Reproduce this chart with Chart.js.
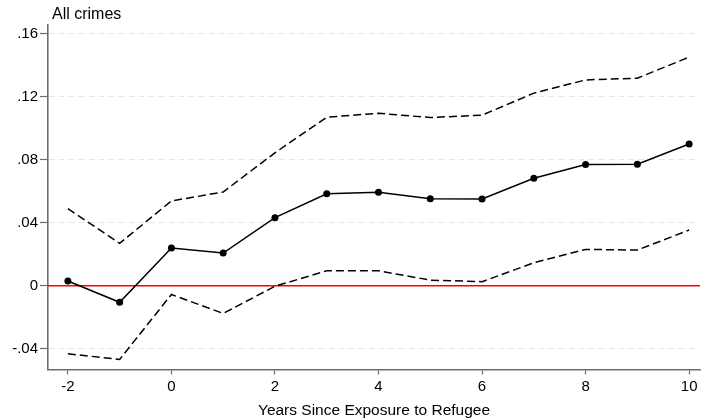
<!DOCTYPE html>
<html lang="en">
<head>
    <meta charset="UTF-8">
    <title>All crimes - event study</title>
    <script src="https://cdn.jsdelivr.net/npm/chart.js"></script>
    <style>
        body { margin: 0; background: #fff; }
        canvas { display: block; }
    </style>
</head>
<body>
    <canvas id="eventChart" width="704" height="419"></canvas>

    <script>
        // Years relative to refugee exposure
        const years = [-2, -1, 0, 1, 2, 3, 4, 5, 6, 7, 8, 9, 10];
        // Point estimates and 95% confidence bounds
        const estimate = [0.003, -0.0105, 0.024, 0.0208, 0.0433, 0.0585, 0.0594, 0.0553, 0.0551, 0.0683, 0.0770, 0.0772, 0.0901];
        const upperCI  = [0.049, 0.027, 0.0539, 0.0596, 0.0845, 0.1071, 0.1096, 0.1069, 0.1084, 0.1224, 0.1308, 0.1319, 0.1453];
        const lowerCI  = [-0.0432, -0.0468, -0.0055, -0.0176, -0.0003, 0.0095, 0.0095, 0.0036, 0.0026, 0.0146, 0.0231, 0.0227, 0.0354];

        const xTicks = [-2, 0, 2, 4, 6, 8, 10];
        const yTicks = [-0.04, 0, 0.04, 0.08, 0.12, 0.16];
        const yTickLabels = ['-.04', '0', '.04', '.08', '.12', '.16'];

        const FONT = '"Liberation Sans", Arial, sans-serif';
        const AXIS_GRAY = '#6e6e6e';

        const toPoints = vals => years.map((x, i) => ({ x: x, y: vals[i] }));

        // zero reference line and panel title
        const extras = {
            id: 'extras',
            beforeDatasetsDraw(chart) {
                const { ctx, chartArea, scales } = chart;
                const y0 = scales.y.getPixelForValue(0);
                ctx.save();
                ctx.strokeStyle = '#ff0000';
                ctx.lineWidth = 1.4;
                ctx.beginPath();
                ctx.moveTo(chartArea.left, y0);
                ctx.lineTo(chartArea.right, y0);
                ctx.stroke();
                ctx.restore();
            },
            afterDraw(chart) {
                const { ctx, chartArea } = chart;
                ctx.save();
                ctx.fillStyle = '#000';
                ctx.font = '16px ' + FONT;
                ctx.textBaseline = 'alphabetic';
                ctx.fillText('All crimes', chartArea.left + 4, 18.7);
                ctx.restore();
            }
        };

        const ctx = document.getElementById('eventChart').getContext('2d');
        new Chart(ctx, {
            type: 'line',
            data: {
                datasets: [{
                    label: 'Upper bound',
                    data: toPoints(upperCI),
                    borderColor: '#000',
                    borderWidth: 1.5,
                    borderDash: [8, 4],
                    pointRadius: 0,
                    fill: false,
                    tension: 0
                }, {
                    label: 'Lower bound',
                    data: toPoints(lowerCI),
                    borderColor: '#000',
                    borderWidth: 1.5,
                    borderDash: [8, 4],
                    pointRadius: 0,
                    fill: false,
                    tension: 0
                }, {
                    label: 'Estimate',
                    data: toPoints(estimate),
                    borderColor: '#000',
                    backgroundColor: '#000',
                    borderWidth: 1.5,
                    pointRadius: 3.5,
                    pointBorderWidth: 0,
                    fill: false,
                    tension: 0
                }]
            },
            options: {
                responsive: false,
                animation: false,
                devicePixelRatio: 1,
                layout: { padding: { top: 25, left: 0, right: 0, bottom: 0 } },
                plugins: {
                    legend: { display: false },
                    tooltip: { enabled: false }
                },
                scales: {
                    x: {
                        type: 'linear',
                        min: -2.384,
                        max: 10.21,
                        afterBuildTicks: axis => { axis.ticks = xTicks.map(v => ({ value: v })); },
                        afterFit: axis => { axis.height = 49.5; },
                        grid: {
                            drawOnChartArea: false,
                            drawTicks: true,
                            tickLength: 5,
                            tickColor: AXIS_GRAY,
                            tickWidth: 1.2
                        },
                        border: { display: true, color: AXIS_GRAY, width: 1.6 },
                        ticks: {
                            color: '#000',
                            font: { family: FONT, size: 15 },
                            padding: 3,
                            maxRotation: 0
                        },
                        title: {
                            display: true,
                            text: 'Years Since Exposure to Refugee',
                            color: '#000',
                            font: { family: FONT, size: 15.5 },
                            padding: { top: 0, bottom: -1.5 }
                        }
                    },
                    y: {
                        type: 'linear',
                        min: -0.0532,
                        max: 0.1657,
                        afterBuildTicks: axis => { axis.ticks = yTicks.map(v => ({ value: v })); },
                        afterFit: axis => { axis.width = 48; },
                        grid: {
                            color: '#e6e6e6',
                            lineWidth: 1,
                            drawTicks: true,
                            tickLength: 8,
                            tickColor: AXIS_GRAY,
                            tickWidth: 1.2
                        },
                        border: { display: true, color: AXIS_GRAY, width: 1.6, dash: [6, 4] },
                        ticks: {
                            color: '#000',
                            font: { family: FONT, size: 15 },
                            padding: 2,
                            callback: (value) => {
                                const i = yTicks.findIndex(t => Math.abs(t - value) < 1e-9);
                                return i >= 0 ? yTickLabels[i] : '';
                            }
                        }
                    }
                }
            },
            plugins: [extras]
        });
    </script>
</body>
</html>
